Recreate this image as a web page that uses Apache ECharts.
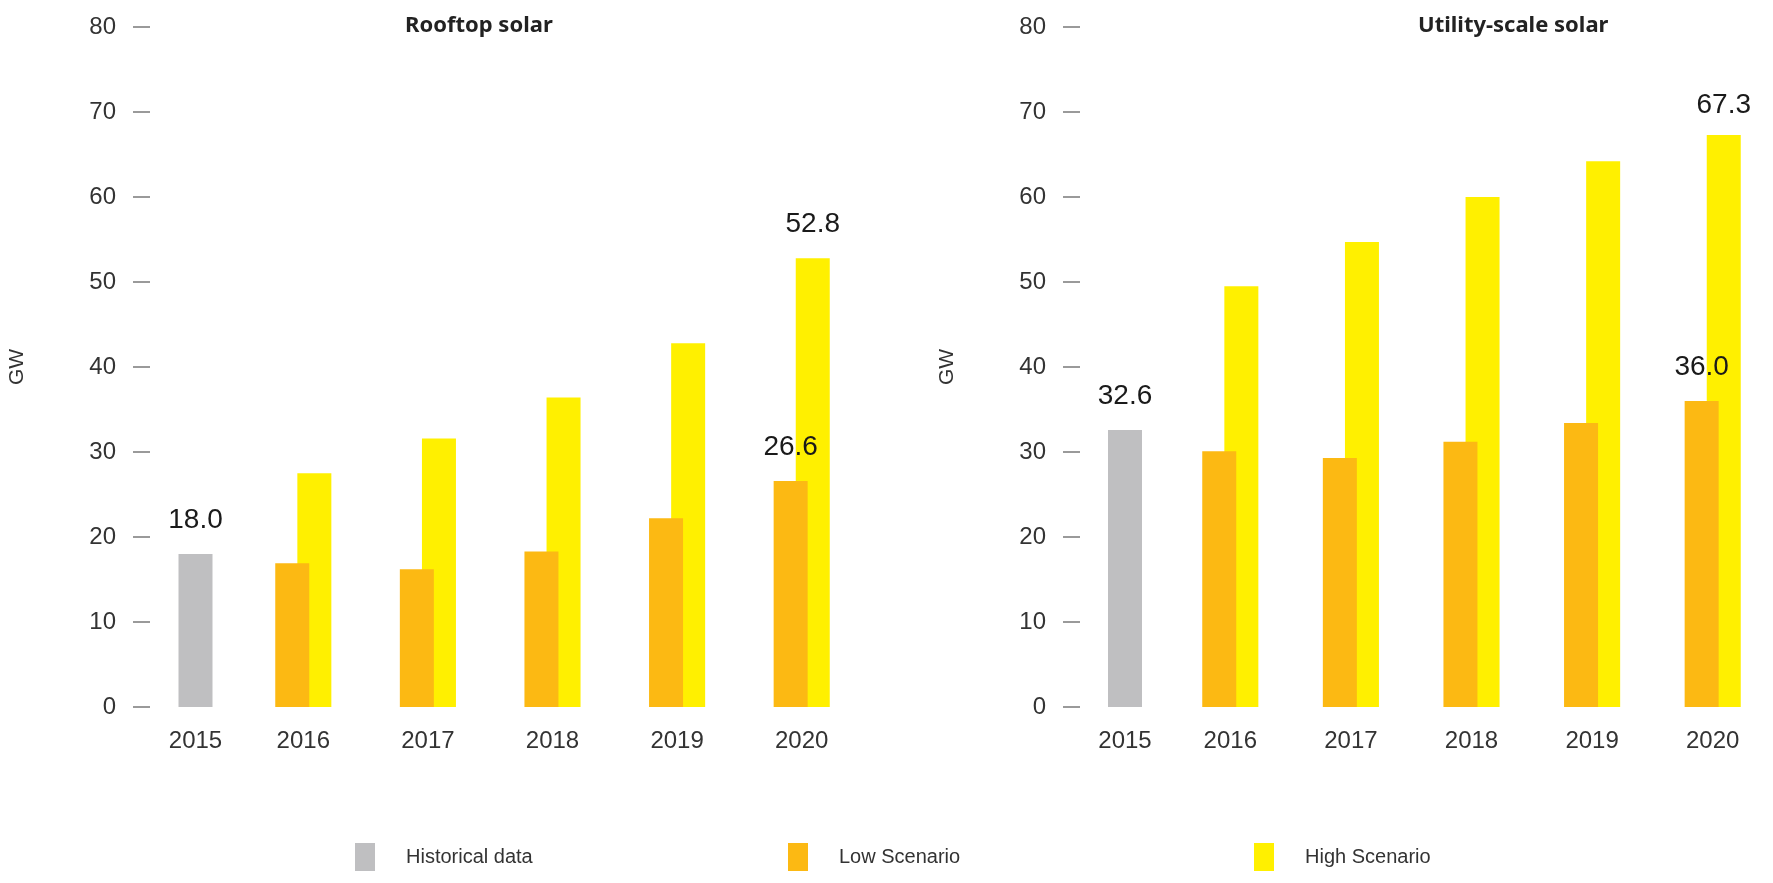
<!DOCTYPE html>
<html>
<head>
<meta charset="utf-8">
<script src="https://cdn.jsdelivr.net/npm/echarts@6/dist/echarts.min.js"></script>
<style>
html,body{margin:0;padding:0;background:#fff;}
#main{width:1773px;height:883px;}
</style>
</head>
<body>
<div id="main"></div>
<script>
const categories = ['2015', '2016', '2017', '2018', '2019', '2020'];
const yTicks = [0, 10, 20, 30, 40, 50, 60, 70, 80];
const rooftopHistorical = [18.0];
const rooftopLow = [16.9, 16.2, 18.3, 22.2, 26.6];
const rooftopHigh = [27.5, 31.6, 36.4, 42.8, 52.8];
const utilityHistorical = [32.6];
const utilityLow = [30.1, 29.3, 31.2, 33.4, 36.0];
const utilityHigh = [49.5, 54.7, 60.0, 64.2, 67.3];

const COL_HIST = '#bfbfc1';
const COL_LOW = '#fcb913';
const COL_HIGH = '#fff000';
const FONT = '"Liberation Sans", Arial, sans-serif';

const chart = echarts.init(document.getElementById('main'));

const TOP = 27, BOTTOM = 176;
function grid(left, width) { return { left: left, width: width, top: TOP, bottom: BOTTOM, containLabel: false }; }

function xAx(gridIndex, data) {
  return {
    type: 'category', gridIndex: gridIndex, data: data,
    axisLine: { show: false }, axisTick: { show: false },
    axisLabel: { fontFamily: FONT, fontSize: 24, color: '#333', margin: 22, interval: 0 }
  };
}
function yAx(gridIndex, show) {
  return {
    type: 'value', gridIndex: gridIndex, min: yTicks[0], max: yTicks[yTicks.length - 1], interval: 10,
    show: true,
    name: show ? 'GW' : '', nameLocation: 'middle', nameGap: 122, nameRotate: 90,
    nameTextStyle: { fontFamily: FONT, fontSize: 21, color: '#333' },
    axisLine: { show: false },
    axisTick: { show: show, length: 17, lineStyle: { color: '#9a9a9a', width: 2 } },
    axisLabel: { show: show, fontFamily: FONT, fontSize: 24, color: '#333', margin: 34 },
    splitLine: { show: false }
  };
}

function labeled(arr, idx, distance) {
  return arr.map((v, i) => i === idx ? {
    value: v,
    label: { show: true, position: 'top', distance: distance, fontFamily: FONT, fontSize: 28, color: '#1a1a1a',
      formatter: p => p.value.toFixed(1) }
  } : v);
}

function barSeries(name, xi, yi, data, color, z) {
  return {
    name: name, type: 'bar', xAxisIndex: xi, yAxisIndex: yi, data: data,
    barWidth: 34, barGap: '-35%', z: z,
    itemStyle: { color: color },
    emphasis: { disabled: true }
  };
}

const legendText = { fontFamily: FONT, fontSize: 20, color: '#333', padding: [0, 0, 0, 26] };
const titleText = { fontFamily: '"Noto Sans", sans-serif', fontWeight: 'bold', fontSize: 22, color: '#222' };

const option = {
  animation: false,
  backgroundColor: '#ffffff',
  title: [
    { text: 'Rooftop solar', left: 405, top: 15, padding: 0, textStyle: titleText },
    { text: 'Utility-scale solar', left: 1418, top: 15, padding: 0, textStyle: titleText }
  ],
  legend: [
    { data: ['Historical data'], left: 350, top: 838, itemWidth: 20, itemHeight: 28, icon: 'rect', textStyle: legendText },
    { data: ['Low Scenario'], left: 783, top: 838, itemWidth: 20, itemHeight: 28, icon: 'rect', textStyle: legendText },
    { data: ['High Scenario'], left: 1249, top: 838, itemWidth: 20, itemHeight: 28, icon: 'rect', textStyle: legendText }
  ],
  grid: [grid(150, 91), grid(241, 623), grid(1080, 90), grid(1170, 623)],
  xAxis: [
    xAx(0, categories.slice(0, 1)), xAx(1, categories.slice(1)),
    xAx(2, categories.slice(0, 1)), xAx(3, categories.slice(1))
  ],
  yAxis: [yAx(0, true), yAx(1, false), yAx(2, true), yAx(3, false)],
  series: [
    barSeries('Historical data', 0, 0, labeled(rooftopHistorical, 0, 20), COL_HIST, 2),
    barSeries('Low Scenario', 1, 1, labeled(rooftopLow, 4, 20), COL_LOW, 3),
    barSeries('High Scenario', 1, 1, labeled(rooftopHigh, 4, 20), COL_HIGH, 2),
    barSeries('Historical data', 2, 2, labeled(utilityHistorical, 0, 20), COL_HIST, 2),
    barSeries('Low Scenario', 3, 3, labeled(utilityLow, 4, 20), COL_LOW, 3),
    barSeries('High Scenario', 3, 3, labeled(utilityHigh, 4, 16), COL_HIGH, 2)
  ]
};
chart.setOption(option);
</script>
</body>
</html>
